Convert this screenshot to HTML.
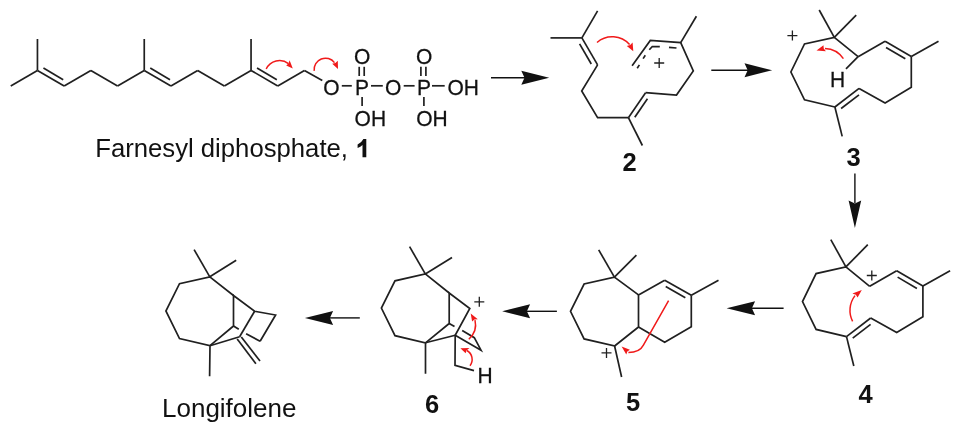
<!DOCTYPE html>
<html><head><meta charset="utf-8"><style>
html,body{margin:0;padding:0;background:#fff;width:960px;height:430px;overflow:hidden}
svg{display:block;will-change:transform}
text{font-family:"Liberation Sans",sans-serif}
</style></head><body>
<svg width="960" height="430" viewBox="0 0 960 430">
<g stroke="#202020" stroke-width="1.7" stroke-linecap="butt" stroke-linejoin="miter" fill="none">
<line x1="10.75" y1="86.00" x2="37.45" y2="70.40"/>
<line x1="37.45" y1="70.40" x2="64.15" y2="86.00"/>
<line x1="43.43" y1="68.10" x2="63.22" y2="79.66"/>
<line x1="64.15" y1="86.00" x2="90.85" y2="70.40"/>
<line x1="90.85" y1="70.40" x2="117.55" y2="86.00"/>
<line x1="117.55" y1="86.00" x2="144.25" y2="70.40"/>
<line x1="144.25" y1="70.40" x2="170.95" y2="86.00"/>
<line x1="150.23" y1="68.10" x2="170.02" y2="79.66"/>
<line x1="170.95" y1="86.00" x2="197.65" y2="70.40"/>
<line x1="197.65" y1="70.40" x2="224.35" y2="86.00"/>
<line x1="224.35" y1="86.00" x2="251.05" y2="70.40"/>
<line x1="251.05" y1="70.40" x2="277.75" y2="86.00"/>
<line x1="257.03" y1="68.10" x2="276.82" y2="79.66"/>
<line x1="277.75" y1="86.00" x2="304.45" y2="70.40"/>
<line x1="37.45" y1="70.40" x2="37.45" y2="39.00"/>
<line x1="144.25" y1="70.40" x2="144.25" y2="39.00"/>
<line x1="251.05" y1="70.40" x2="251.05" y2="39.00"/>
<line x1="304.45" y1="70.40" x2="322.30" y2="80.60"/>
<line x1="341.80" y1="85.80" x2="351.80" y2="85.80"/>
<line x1="371.00" y1="85.80" x2="382.80" y2="85.80"/>
<line x1="403.70" y1="85.80" x2="414.60" y2="85.80"/>
<line x1="432.00" y1="85.80" x2="444.70" y2="85.80"/>
<line x1="359.20" y1="66.80" x2="359.20" y2="76.00"/>
<line x1="364.20" y1="66.80" x2="364.20" y2="76.00"/>
<line x1="420.90" y1="66.80" x2="420.90" y2="76.00"/>
<line x1="425.90" y1="66.80" x2="425.90" y2="76.00"/>
<line x1="362.10" y1="96.90" x2="362.10" y2="106.10"/>
<line x1="423.90" y1="96.90" x2="423.90" y2="106.10"/>
<line x1="550.50" y1="37.90" x2="581.90" y2="37.90"/>
<line x1="581.90" y1="37.90" x2="597.60" y2="10.90"/>
<line x1="581.90" y1="37.90" x2="597.60" y2="64.90"/>
<line x1="579.59" y1="43.87" x2="591.27" y2="63.96"/>
<path d="M597.60,64.90 L581.70,91.00 L597.60,117.70 L628.40,117.70"/>
<line x1="628.40" y1="117.70" x2="642.40" y2="145.50"/>
<line x1="628.40" y1="117.70" x2="645.60" y2="92.70"/>
<line x1="634.79" y1="117.24" x2="647.45" y2="98.83"/>
<path d="M645.60,92.70 L676.50,95.00 L693.30,70.90 L680.70,42.60 L650.30,40.50 L632.10,65.70"/>
<line x1="680.70" y1="42.60" x2="696.40" y2="16.30"/>
<line x1="637.20" y1="68.20" x2="639.40" y2="64.90"/>
<line x1="643.10" y1="58.60" x2="645.30" y2="55.20"/>
<path d="M649.30,49.80 L652.30,46.50 L659.80,46.70"/>
<line x1="669.00" y1="47.30" x2="676.50" y2="48.00"/>
<line x1="834.30" y1="37.30" x2="819.20" y2="10.00"/>
<line x1="834.30" y1="37.30" x2="856.20" y2="15.10"/>
<path d="M858.10,56.70 L834.30,37.30 L804.50,44.00 L790.90,72.00 L804.50,99.80 L834.90,107.00"/>
<line x1="834.90" y1="107.00" x2="842.20" y2="136.40"/>
<line x1="834.90" y1="107.00" x2="859.10" y2="88.40"/>
<line x1="841.12" y1="108.53" x2="858.98" y2="94.80"/>
<path d="M859.10,88.40 L885.10,102.90 L911.30,87.20 L911.30,56.50"/>
<line x1="911.30" y1="56.50" x2="938.50" y2="41.20"/>
<line x1="911.30" y1="56.50" x2="885.10" y2="41.20"/>
<line x1="905.32" y1="58.80" x2="886.03" y2="47.53"/>
<line x1="885.10" y1="41.20" x2="858.10" y2="56.70"/>
<line x1="858.10" y1="56.70" x2="846.00" y2="68.80"/>
<line x1="845.90" y1="266.90" x2="830.80" y2="239.60"/>
<line x1="845.90" y1="266.90" x2="867.80" y2="244.70"/>
<path d="M869.70,286.30 L845.90,266.90 L816.10,273.60 L802.50,301.60 L816.10,329.40 L846.50,336.60"/>
<line x1="846.50" y1="336.60" x2="853.80" y2="366.00"/>
<line x1="846.50" y1="336.60" x2="870.70" y2="318.00"/>
<line x1="852.72" y1="338.13" x2="870.58" y2="324.40"/>
<path d="M870.70,318.00 L896.70,332.50 L922.90,316.80 L922.90,286.10"/>
<line x1="922.90" y1="286.10" x2="950.10" y2="270.80"/>
<line x1="922.90" y1="286.10" x2="896.70" y2="270.80"/>
<line x1="916.92" y1="288.40" x2="897.63" y2="277.13"/>
<line x1="896.70" y1="270.80" x2="869.70" y2="286.30"/>
<line x1="614.40" y1="277.10" x2="598.70" y2="249.90"/>
<line x1="614.40" y1="277.10" x2="636.40" y2="255.10"/>
<path d="M638.50,294.90 L614.40,277.10 L584.10,284.00 L570.50,311.30 L584.10,338.90 L614.60,346.00 L621.60,377.00"/>
<path d="M614.60,346.00 L638.50,327.00 L638.50,294.90 L664.70,280.20"/>
<line x1="664.70" y1="280.20" x2="691.30" y2="295.30"/>
<line x1="665.71" y1="286.52" x2="685.35" y2="297.67"/>
<line x1="691.30" y1="295.30" x2="718.50" y2="280.20"/>
<path d="M691.30,295.30 L691.30,326.70 L664.70,342.30 L638.50,327.00"/>
<line x1="425.30" y1="273.90" x2="409.60" y2="246.70"/>
<line x1="425.30" y1="273.90" x2="452.00" y2="257.60"/>
<path d="M449.20,293.00 L425.30,273.90 L395.00,280.80 L381.40,308.10 L395.00,335.70 L425.50,342.80 L425.50,373.80"/>
<path d="M425.50,342.80 L449.20,323.50 L449.20,293.00 L469.80,308.50 L455.20,335.30 L455.00,365.30 L474.00,370.60"/>
<line x1="425.50" y1="342.80" x2="455.20" y2="335.30"/>
<line x1="449.20" y1="323.50" x2="454.50" y2="326.60"/>
<path d="M462.20,330.50 L474.30,337.70 L481.00,350.20 L455.20,335.30"/>
<line x1="209.80" y1="276.80" x2="194.10" y2="249.60"/>
<line x1="209.80" y1="276.80" x2="236.20" y2="260.30"/>
<path d="M233.50,295.50 L209.80,276.80 L179.50,283.70 L165.90,311.00 L179.50,338.60 L210.00,345.70 L209.60,376.20"/>
<path d="M210.00,345.70 L233.50,326.00 L233.50,295.50 L254.60,311.30 L275.60,315.00 L260.10,341.20"/>
<line x1="210.00" y1="345.70" x2="239.60" y2="336.80"/>
<line x1="254.60" y1="311.30" x2="239.60" y2="336.80"/>
<line x1="233.50" y1="326.00" x2="238.80" y2="329.30"/>
<line x1="246.10" y1="333.70" x2="260.10" y2="341.20"/>
<line x1="237.20" y1="339.00" x2="255.90" y2="363.70"/>
<line x1="241.30" y1="337.00" x2="260.00" y2="361.00"/>
</g>
<g stroke="#202020" stroke-width="1.3" fill="none">
<path d="M654.20,63.00 H664.20 M659.20,58.00 V68.00"/>
<path d="M787.40,35.60 H797.40 M792.40,30.60 V40.60"/>
<path d="M866.80,275.50 H876.80 M871.80,270.50 V280.50"/>
<path d="M601.50,352.90 H611.50 M606.50,347.90 V357.90"/>
<path d="M474.30,301.80 H484.30 M479.30,296.80 V306.80"/>
</g>
<g fill="#111" stroke="#111">
<line x1="491" y1="77.7" x2="525.0" y2="77.7" stroke-width="1.4"/>
<path d="M549.2,77.7 L521.3,70.7 L524.5,77.7 L521.3,84.7 Z" stroke="none"/>
<line x1="711.3" y1="70.2" x2="748.2" y2="70.2" stroke-width="1.4"/>
<path d="M772.1,70.2 L744.5,63.2 L747.7,70.2 L744.5,77.2 Z" stroke="none"/>
<line x1="783.6" y1="308.3" x2="751.4" y2="308.3" stroke-width="1.4"/>
<path d="M726.6,308.3 L755.1,301.3 L751.9,308.3 L755.1,315.3 Z" stroke="none"/>
<line x1="556.9" y1="311.3" x2="526.4" y2="311.3" stroke-width="1.4"/>
<path d="M502.2,311.3 L530.1,304.3 L526.9,311.3 L530.1,318.3 Z" stroke="none"/>
<line x1="359.8" y1="317.9" x2="329.40000000000003" y2="317.9" stroke-width="1.4"/>
<path d="M304.9,317.9 L333.1,310.9 L329.90000000000003,317.9 L333.1,324.9 Z" stroke="none"/>
<line x1="854.9" y1="173.5" x2="854.9" y2="203" stroke-width="1.4"/>
<path d="M854.9,227.9 L848.6,200.5 L854.9,203.5 L861.2,200.5 Z" stroke="none"/>
</g>
<g stroke="#f01a1a" stroke-width="1.5" fill="none">
<path d="M266.20,69.00 A14.80,14.80 0 0 1 288.50,63.60" fill="none"/>
<path d="M292.80,68.60 L286.20,65.60 L288.49,63.58 L289.60,60.20 Z" stroke="none" fill="#f01a1a"/>
<path d="M314.20,70.80 A11.38,11.38 0 0 1 334.50,62.60" fill="none"/>
<path d="M338.00,69.00 L332.20,63.80 L335.36,63.10 L337.80,60.80 Z" stroke="none" fill="#f01a1a"/>
<path d="M597.00,42.50 A23.18,23.18 0 0 1 629.60,44.60" fill="none"/>
<path d="M633.30,51.20 L626.80,46.00 L630.13,45.04 L632.60,42.40 Z" stroke="none" fill="#f01a1a"/>
<path d="M843.40,58.70 A22.82,22.82 0 0 0 825.00,48.40" fill="none"/>
<path d="M816.50,50.50 L823.50,45.20 L823.72,48.48 L825.90,51.20 Z" stroke="none" fill="#f01a1a"/>
<path d="M852.60,321.40 A24.35,24.35 0 0 1 855.00,295.60" fill="none"/>
<path d="M861.80,290.00 L852.40,293.40 L855.82,294.84 L857.60,297.60 Z" stroke="none" fill="#f01a1a"/>
<path d="M668.6,300.6 L643.4,345.2 Q639.6,352.6 628.4,352.6" fill="none"/>
<path d="M621.60,346.60 L626.30,354.40 L627.32,351.44 L629.90,349.80 Z" stroke="none" fill="#f01a1a"/>
<path d="M468.80,339.20 A19.37,19.37 0 0 0 475.00,320.20" fill="none"/>
<path d="M470.70,313.50 L472.10,321.40 L474.44,319.48 L477.80,319.20 Z" stroke="none" fill="#f01a1a"/>
<path d="M470.00,365.70 A10.33,10.33 0 0 0 467.00,350.50" fill="none"/>
<path d="M460.40,348.30 L469.50,348.00 L466.69,350.32 L465.60,353.20 Z" stroke="none" fill="#f01a1a"/>
</g>
<g fill="#111" font-family="Liberation Sans, sans-serif">
<g transform="translate(0,87.50) scale(1,1.09) translate(0,-87.50)"><text x="331.30" y="94.50" font-size="21" text-anchor="middle" stroke="#111" stroke-width="0.25">O</text></g>
<g transform="translate(0,87.50) scale(1,1.09) translate(0,-87.50)"><text x="361.90" y="94.50" font-size="21" text-anchor="middle" stroke="#111" stroke-width="0.25">P</text></g>
<g transform="translate(0,87.50) scale(1,1.09) translate(0,-87.50)"><text x="393.20" y="94.50" font-size="21" text-anchor="middle" stroke="#111" stroke-width="0.25">O</text></g>
<g transform="translate(0,87.50) scale(1,1.09) translate(0,-87.50)"><text x="423.90" y="94.50" font-size="21" text-anchor="middle" stroke="#111" stroke-width="0.25">P</text></g>
<g transform="translate(0,87.50) scale(1,1.09) translate(0,-87.50)"><text x="447.50" y="94.50" font-size="21" text-anchor="start" stroke="#111" stroke-width="0.25">OH</text></g>
<g transform="translate(0,56.40) scale(1,1.09) translate(0,-56.40)"><text x="362.20" y="63.40" font-size="21" text-anchor="middle" stroke="#111" stroke-width="0.25">O</text></g>
<g transform="translate(0,56.40) scale(1,1.09) translate(0,-56.40)"><text x="424.10" y="63.40" font-size="21" text-anchor="middle" stroke="#111" stroke-width="0.25">O</text></g>
<g transform="translate(0,118.40) scale(1,1.09) translate(0,-118.40)"><text x="354.60" y="125.40" font-size="21" text-anchor="start" stroke="#111" stroke-width="0.25">OH</text></g>
<g transform="translate(0,118.40) scale(1,1.09) translate(0,-118.40)"><text x="416.20" y="125.40" font-size="21" text-anchor="start" stroke="#111" stroke-width="0.25">OH</text></g>
<text x="95.2" y="157.2" font-size="25.7">Farnesyl diphosphate,</text>
<path d="M366.3,157.3 L362.5,157.3 L362.5,145.0 Q360.6,146.9 357.6,148.1 L357.6,144.6 Q361.6,142.6 363.4,139.0 L366.3,139.0 Z" stroke="none"/>
<text x="629.50" y="171.30" font-size="25.5" text-anchor="middle" font-weight="bold">2</text>
<g transform="translate(0,79.10) scale(1,1.09) translate(0,-79.10)"><text x="837.50" y="86.10" font-size="21" text-anchor="middle" stroke="#111" stroke-width="0.25">H</text></g>
<text x="853.50" y="165.50" font-size="25.5" text-anchor="middle" font-weight="bold">3</text>
<text x="865.60" y="402.80" font-size="25.5" text-anchor="middle" font-weight="bold">4</text>
<text x="633.00" y="410.90" font-size="25.5" text-anchor="middle" font-weight="bold">5</text>
<g transform="translate(0,374.90) scale(1,1.09) translate(0,-374.90)"><text x="485.00" y="381.90" font-size="21" text-anchor="middle" stroke="#111" stroke-width="0.25">H</text></g>
<text x="432.00" y="412.90" font-size="25.5" text-anchor="middle" font-weight="bold">6</text>
<text x="162.0" y="416.7" font-size="26">Longifolene</text>
</g>
</svg>
</body></html>
